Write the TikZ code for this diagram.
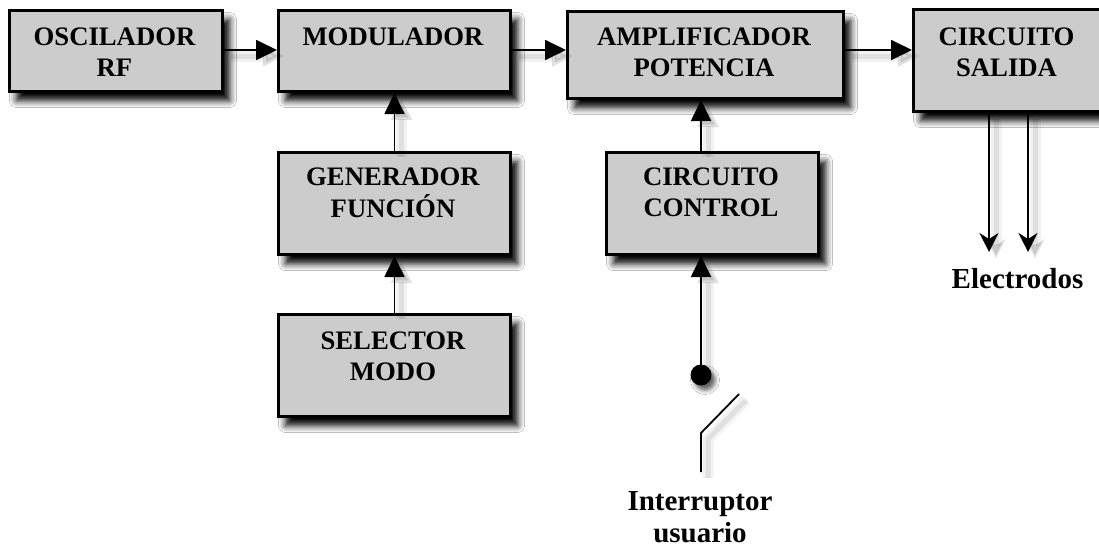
\documentclass[tikz,border=0pt]{standalone}
\usepackage{fontspec}
\setmainfont{Liberation Serif}
\usetikzlibrary{arrows.meta,shadows.blur,calc}
\definecolor{boxfill}{RGB}{204,204,204}
% two-line label whose baseline is the first line
\newcommand{\stk}[1]{\begin{tabular}[t]{@{}c@{}}#1\end{tabular}}
\begin{document}
\begin{tikzpicture}[x=1pt,y=-1pt,
  blk/.style={draw=black, line width=3pt, fill=boxfill, inner sep=0pt,
    anchor=north west,
    blur shadow={shadow xshift=7pt, shadow yshift=-9pt,
      shadow blur radius=7pt, shadow opacity=100}},
  txt/.style={font=\fontsize{26.7}{31.5}\selectfont\bfseries, inner sep=0pt, anchor=base},
  lbl/.style={font=\fontsize{29}{32.5}\selectfont\bfseries, inner sep=0pt, anchor=base},
  wshadow/.style={
    preaction={draw=black, opacity=0.05, line width=11pt,
      transform canvas={shift={(7pt,-6pt)}}},
    preaction={draw=black, opacity=0.07, line width=5pt,
      transform canvas={shift={(7pt,-6pt)}}}},
  arr/.style={wshadow, line width=1.8pt, -{Triangle[length=21pt,width=20pt]}},
  earr/.style={wshadow, line width=1.8pt, -{Stealth[length=19pt,width=19pt,inset=6pt]}},
  wire/.style={wshadow, line width=1.8pt},
  pin/.style={circle, fill=black, inner sep=0pt, minimum size=21pt,
    blur shadow={shadow xshift=4pt, shadow yshift=-5pt,
      shadow blur radius=4pt, shadow opacity=60}},
]
\useasboundingbox (0,0) rectangle (1099,549);
\fill[white] (0,0) rectangle (1099,549);

% blocks
\node[blk, minimum width=213pt, minimum height=81pt]  (osc) at (8,9) {};
\node[blk, minimum width=232pt, minimum height=81pt]  (mod) at (277,9) {};
\node[blk, minimum width=276pt, minimum height=87pt]  (amp) at (566,10) {};
\node[blk, minimum width=189pt, minimum height=102pt] (sal) at (912,8) {};
\node[blk, minimum width=232pt, minimum height=102pt] (gen) at (277,151) {};
\node[blk, minimum width=232pt, minimum height=102pt] (sel) at (277,313) {};
\node[blk, minimum width=212pt, minimum height=102pt] (ctl) at (605,151) {};

% block texts
\node[txt] (osct) at (114.5,45) {\stk{OSCILADOR\\RF}};
\node[txt] (modt) at (393,45)   {MODULADOR};
\node[txt] (ampt) at (704,45)   {\stk{AMPLIFICADOR\\POTENCIA}};
\node[txt] (salt) at (1006.5,45) {\stk{CIRCUITO\\SALIDA}};
\node[txt] (gent) at (393,185)  {\stk{GENERADOR\\FUNCIÓN}};
\node[txt] (selt) at (393,349)  {\stk{SELECTOR\\MODO}};
\node[txt] (ctlt) at (711,185)  {\stk{CIRCUITO\\CONTROL}};

% signal chain
\coordinate (row) at (0,50);
\draw[arr] (osc.east |- row) -- (mod.west |- row);
\draw[arr] (mod.east |- row) -- (amp.west |- row);
\draw[arr] (amp.east |- row) -- (sal.west |- row);
\draw[arr] (sel.north) -- (gen.south);
\draw[arr] (gen.north) -- (mod.south);

% user switch and control path
\node[pin] (dot) at (701,375) {};
\draw[arr] (dot.center) -- (dot |- ctl.south);
\draw[arr] (dot |- ctl.north) -- (dot |- amp.south);
\coordinate (sw1) at (701,472);
\coordinate (sw2) at (701,433);
\coordinate (sw3) at (739,394);
\draw[wire] (sw1) -- (sw2) -- (sw3);
\node[lbl] (intr) at (700,510) {\stk{Interruptor\\usuario}};

% electrode outputs
\coordinate (e1) at (989,252);
\coordinate (e2) at (1028,252);
\draw[earr] (sal.south -| e1) -- (e1);
\draw[earr] (sal.south -| e2) -- (e2);
\node[lbl] (elec) at (1017.5,288) {Electrodos};
\end{tikzpicture}
\end{document}
